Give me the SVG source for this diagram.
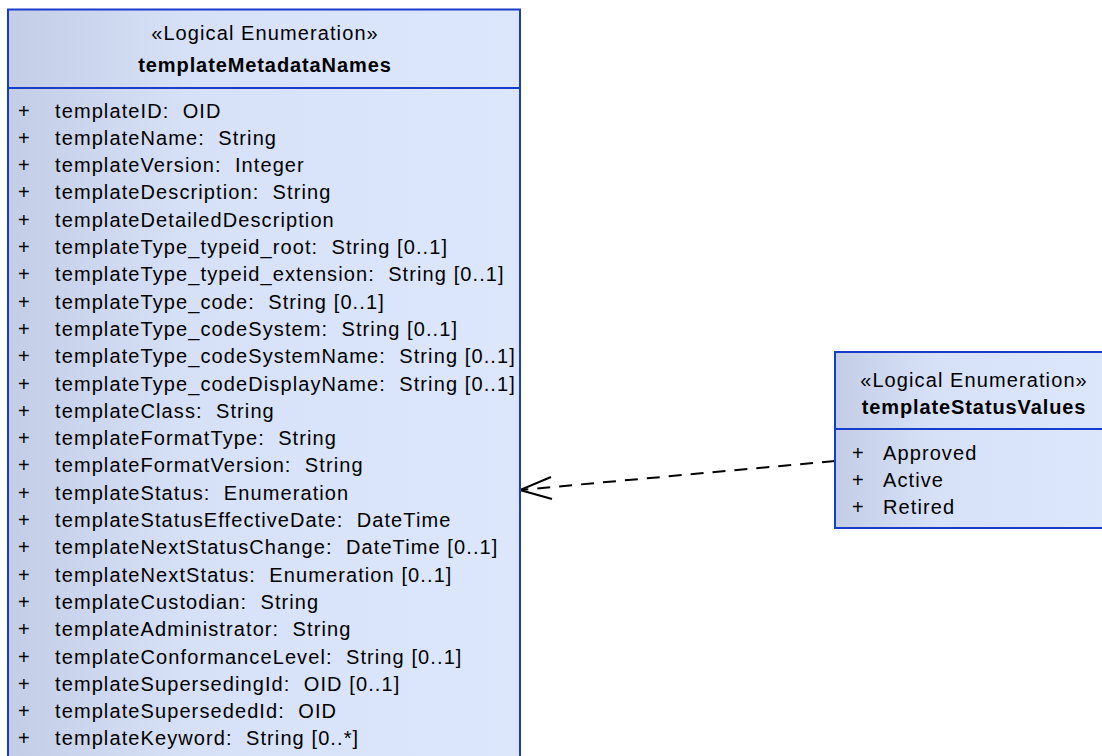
<svg xmlns="http://www.w3.org/2000/svg" width="1102" height="756" viewBox="0 0 1102 756">
  <style>
    .box { stroke: #1a3ccc; stroke-width: 2; }
    .div { stroke: #1a3ccc; stroke-width: 2; }
    .t { font-family: "Liberation Sans", Arial, sans-serif; font-size: 20px; fill: #000; letter-spacing: 1.1px; }
    .b { font-weight: bold; letter-spacing: 0.9px; }
    .c { text-anchor: middle; }
    .conn { fill: none; stroke: #000; stroke-width: 2; }
  </style>
  <defs>
    <linearGradient id="g1" gradientUnits="userSpaceOnUse" x1="8" y1="0" x2="520" y2="0">
      <stop offset="0" stop-color="#c3cee6"/>
      <stop offset="0.35" stop-color="#d6e0f7"/>
      <stop offset="1" stop-color="#dde7fc"/>
    </linearGradient>
    <linearGradient id="g2" gradientUnits="userSpaceOnUse" x1="835" y1="0" x2="1113" y2="0">
      <stop offset="0" stop-color="#c3cee6"/>
      <stop offset="0.35" stop-color="#d6e0f7"/>
      <stop offset="1" stop-color="#dde7fc"/>
    </linearGradient>
  </defs>
  <rect x="0" y="0" width="1102" height="756" fill="#ffffff"/>

  <g id="connectors">
    <path class="conn" d="M835,461 L520,490" stroke-dasharray="13 9"/>
    <path class="conn" d="M551,477 L520,490 L552,499"/>
  </g>

  <g id="templateMetadataNames">
    <rect class="box" x="8" y="9.5" width="512" height="760" fill="url(#g1)"/>
    <line class="div" x1="8" y1="88" x2="520" y2="88"/>
    <text class="t c" x="265" y="40">«Logical Enumeration»</text>
    <text class="t b c" x="265" y="71.5">templateMetadataNames</text>
    <g class="t">
      <text x="18" y="117.5">+</text><text x="55" y="117.5">templateID:&#160; OID</text>
      <text x="18" y="144.8">+</text><text x="55" y="144.8">templateName:&#160; String</text>
      <text x="18" y="172.1">+</text><text x="55" y="172.1">templateVersion:&#160; Integer</text>
      <text x="18" y="199.4">+</text><text x="55" y="199.4">templateDescription:&#160; String</text>
      <text x="18" y="226.7">+</text><text x="55" y="226.7">templateDetailedDescription</text>
      <text x="18" y="254.0">+</text><text x="55" y="254.0">templateType_typeid_root:&#160; String [0..1]</text>
      <text x="18" y="281.3">+</text><text x="55" y="281.3">templateType_typeid_extension:&#160; String [0..1]</text>
      <text x="18" y="308.6">+</text><text x="55" y="308.6">templateType_code:&#160; String [0..1]</text>
      <text x="18" y="335.9">+</text><text x="55" y="335.9">templateType_codeSystem:&#160; String [0..1]</text>
      <text x="18" y="363.2">+</text><text x="55" y="363.2">templateType_codeSystemName:&#160; String [0..1]</text>
      <text x="18" y="390.5">+</text><text x="55" y="390.5">templateType_codeDisplayName:&#160; String [0..1]</text>
      <text x="18" y="417.8">+</text><text x="55" y="417.8">templateClass:&#160; String</text>
      <text x="18" y="445.1">+</text><text x="55" y="445.1">templateFormatType:&#160; String</text>
      <text x="18" y="472.4">+</text><text x="55" y="472.4">templateFormatVersion:&#160; String</text>
      <text x="18" y="499.7">+</text><text x="55" y="499.7">templateStatus:&#160; Enumeration</text>
      <text x="18" y="527.0">+</text><text x="55" y="527.0">templateStatusEffectiveDate:&#160; DateTime</text>
      <text x="18" y="554.3">+</text><text x="55" y="554.3">templateNextStatusChange:&#160; DateTime [0..1]</text>
      <text x="18" y="581.6">+</text><text x="55" y="581.6">templateNextStatus:&#160; Enumeration [0..1]</text>
      <text x="18" y="608.9">+</text><text x="55" y="608.9">templateCustodian:&#160; String</text>
      <text x="18" y="636.2">+</text><text x="55" y="636.2">templateAdministrator:&#160; String</text>
      <text x="18" y="663.5">+</text><text x="55" y="663.5">templateConformanceLevel:&#160; String [0..1]</text>
      <text x="18" y="690.8">+</text><text x="55" y="690.8">templateSupersedingId:&#160; OID [0..1]</text>
      <text x="18" y="718.1">+</text><text x="55" y="718.1">templateSupersededId:&#160; OID</text>
      <text x="18" y="745.4">+</text><text x="55" y="745.4">templateKeyword:&#160; String [0..*]</text>
    </g>
  </g>

  <g id="templateStatusValues">
    <rect class="box" x="835" y="352" width="278" height="176" fill="url(#g2)"/>
    <line class="div" x1="835" y1="429" x2="1113" y2="429"/>
    <text class="t c" x="974" y="387">«Logical Enumeration»</text>
    <text class="t b c" x="974" y="414">templateStatusValues</text>
    <g class="t">
      <text x="852" y="459.5">+</text><text x="883" y="459.5">Approved</text>
      <text x="852" y="486.8">+</text><text x="883" y="486.8">Active</text>
      <text x="852" y="514.1">+</text><text x="883" y="514.1">Retired</text>
    </g>
  </g>
</svg>
